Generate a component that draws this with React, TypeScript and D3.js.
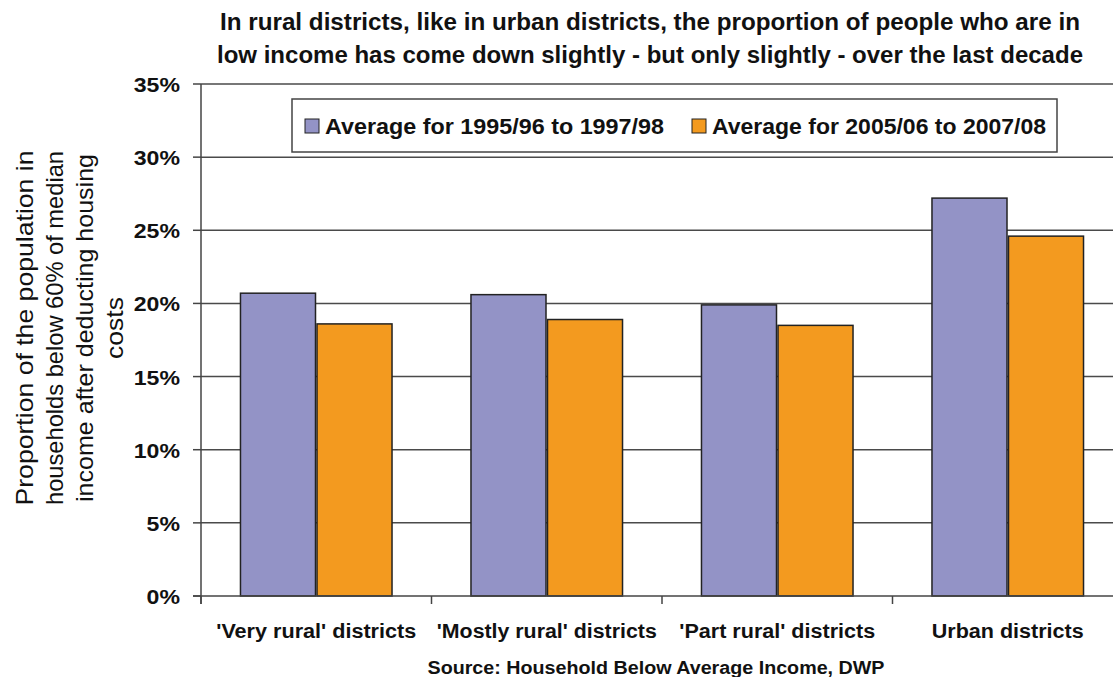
import React from "react";
import * as d3 from "d3";

const categories = ["'Very rural' districts", "'Mostly rural' districts", "'Part rural' districts", "Urban districts"];
const categoryLabelWidths = [200, 220, 196, 152];
const seriesNames = ["Average for 1995/96 to 1997/98", "Average for 2005/06 to 2007/08"];
const series1995 = [20.7, 20.6, 19.9, 27.2];
const series2005 = [18.6, 18.9, 18.5, 24.6];
const yTicks = [0, 5, 10, 15, 20, 25, 30, 35];
const titleLines = [
  "In rural districts, like in urban districts, the proportion of people who are in",
  "low income has come down slightly - but only slightly - over the last decade",
];
const yTitleLines = [
  "Proportion of the population in",
  "households below 60% of median",
  "income after deducting housing",
  "costs",
];
const yTitleWidths = [355, 354, 348, 62];
const sourceText = "Source: Household Below Average Income, DWP";

const colors = ["#9393C6", "#F39A1F"];
const W = 1113;
const H = 677;
const font = "'Liberation Sans', Arial, sans-serif";

export default function App() {
  const x0 = d3.scaleBand<string>().domain(categories).range([201, 1123]).paddingInner(0.336).paddingOuter(0.168);
  const x1 = d3.scaleBand<number>().domain([0, 1]).range([0, x0.bandwidth()]).padding(0);
  const y = d3.scaleLinear().domain([0, 35]).range([596, 84]);
  const data = [series1995, series2005];
  const tickXs = [201, ...categories.slice(1).map((c) => (x0(c) as number) - x0.step() * 0.168)];
  const tickFs = 21;
  const tickStretch = 1.1;

  return (
    <svg width={W} height={H} style={{ position: "absolute", left: 0, top: 0, background: "#fff" }} fontFamily={font}>
      <rect x={0} y={0} width={W} height={H} fill="#fff" />
      {/* Title */}
      {titleLines.map((t, i) => (
        <text key={i} x={650} y={30 + i * 33} textAnchor="middle" fontSize={23} fontWeight="bold" fill="#111"
          textLength={i === 0 ? 860 : 866} lengthAdjust="spacingAndGlyphs">{t}</text>
      ))}
      {/* gridlines */}
      {yTicks.filter((t) => t > 0).map((t) => (
        <line key={t} x1={201} x2={W} y1={y(t)} y2={y(t)} stroke="#4a4a4a" strokeWidth={1.5} />
      ))}
      {/* bars */}
      {categories.map((c, ci) => (
        <g key={c} transform={`translate(${x0(c)},0)`}>
          {data.map((s, si) => (
            <rect key={si} x={(x1(si) as number) + 0.75} y={y(s[ci])} width={x1.bandwidth() - 1.5} height={y(0) - y(s[ci])}
              fill={colors[si]} stroke="#222" strokeWidth={1.5} />
          ))}
        </g>
      ))}
      {/* y axis */}
      <line x1={201} x2={201} y1={84} y2={604} stroke="#444" strokeWidth={1.5} />
      {yTicks.map((t) => {
        const label = `${t}%`;
        const len = ((label.length - 1) * 0.556 + 0.889) * tickFs * tickStretch;
        return (
          <g key={t}>
            <line x1={193} x2={201} y1={y(t)} y2={y(t)} stroke="#444" strokeWidth={1.5} />
            <text x={180} y={y(t) + 8} textAnchor="end" fontSize={tickFs} fontWeight="bold" fill="#111"
              textLength={len} lengthAdjust="spacingAndGlyphs">{label}</text>
          </g>
        );
      })}
      {/* x axis */}
      <line x1={193} x2={W} y1={596} y2={596} stroke="#444" strokeWidth={1.5} />
      {tickXs.map((tx, i) => (
        <line key={i} x1={tx} x2={tx} y1={596} y2={604} stroke="#444" strokeWidth={1.5} />
      ))}
      {categories.map((c, i) => (
        <text key={c} x={(x0(c) as number) + x0.bandwidth() / 2} y={638} textAnchor="middle" fontSize={20} fontWeight="bold" fill="#111"
          textLength={categoryLabelWidths[i]} lengthAdjust="spacingAndGlyphs">{c}</text>
      ))}
      <text x={656} y={674} textAnchor="middle" fontSize={18} fontWeight="bold" fill="#111"
        textLength={457} lengthAdjust="spacingAndGlyphs">{sourceText}</text>
      {/* y title */}
      <g transform="translate(0,328)">
        {yTitleLines.map((t, i) => (
          <text key={i} transform={`translate(${33 + i * 30},0) rotate(-90)`} textAnchor="middle" fontSize={24} fill="#111"
            textLength={yTitleWidths[i]} lengthAdjust="spacingAndGlyphs">{t}</text>
        ))}
      </g>
      {/* legend */}
      <rect x={292} y={99} width={765} height={53} fill="#fff" stroke="#444" strokeWidth={1.5} />
      {seriesNames.map((n, i) => {
        const lx = i === 0 ? 305 : 692;
        return (
          <g key={n}>
            <rect x={lx} y={119} width={14} height={14} fill={colors[i]} stroke="#222" strokeWidth={1} />
            <text x={lx + 20} y={134} fontSize={22} fontWeight="bold" fill="#111"
              textLength={i === 0 ? 339 : 334} lengthAdjust="spacingAndGlyphs">{n}</text>
          </g>
        );
      })}
    </svg>
  );
}
